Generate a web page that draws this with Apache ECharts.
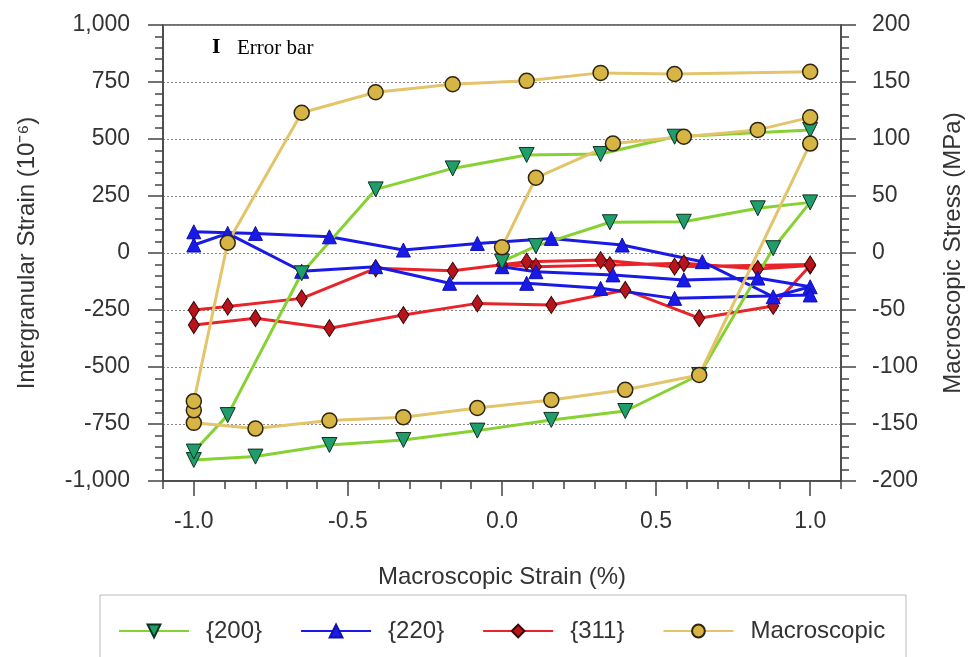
<!DOCTYPE html>
<html>
<head>
<meta charset="utf-8">
<script src="https://cdn.jsdelivr.net/npm/echarts@6/dist/echarts.min.js"></script>
<style>
  html, body { margin: 0; padding: 0; background: #fff; }
  #chart-container { width: 973px; height: 657px; }
</style>
</head>
<body>
<div id="chart-container"></div>
<script>
// macroscopic strain (%) per measured point, loop order: tension, reverse, re-tension
const strain200 = [0, 0.11, 0.35, 0.59, 0.83, 1.0, 0.88, 0.64, 0.40, 0.16, -0.08, -0.32, -0.56, -0.80, -1.0, -1.0, -0.89, -0.65, -0.41, -0.16, 0.08, 0.32, 0.56, 1.0];
const strain220 = [0, 0.11, 0.36, 0.59, 0.83, 1.0, 0.88, 0.65, 0.39, 0.16, -0.08, -0.32, -0.56, -0.80, -1.0, -1.0, -0.89, -0.65, -0.41, -0.17, 0.08, 0.32, 0.56, 1.0];
const strain311 = [0, 0.11, 0.35, 0.59, 0.83, 1.0, 0.88, 0.64, 0.40, 0.16, -0.08, -0.32, -0.56, -0.80, -1.0, -1.0, -0.89, -0.65, -0.41, -0.16, 0.08, 0.32, 0.56, 1.0];
const strainMacro = [0, 0.11, 0.36, 0.59, 0.83, 1.0, 1.0, 0.64, 0.40, 0.16, -0.08, -0.32, -0.56, -0.80, -1.0, -1.0, -1.0, -0.89, -0.65, -0.41, -0.16, 0.08, 0.32, 0.56, 1.0];

// intergranular strain (1e-6)
const strain200Values = [-38, 30, 135, 137, 196, 222, 21, -535, -693, -732, -779, -820, -842, -893, -908, -871, -711, -89, 279, 371, 430, 434, 510, 540];
const strain220Values = [-60, -82, -96, -118, -110, -148, -192, -38, 35, 64, 42, 13, 71, 86, 93, 35, 86, -80, -60, -133, -133, -155, -199, -184];
const strain311Values = [-50, -60, -53, -45, -70, -55, -232, -286, -162, -228, -221, -272, -330, -286, -316, -250, -235, -199, -67, -78, -38, -31, -60, -50];

// macroscopic stress (MPa)
const stressMacro = [5, 66, 96, 102, 108, 119, 96, -107, -120, -129, -136, -144, -147, -154, -149, -138, -130, 9, 123, 141, 148, 151, 158, 157, 159];

const xMajorTicks = [-1.0, -0.5, 0.0, 0.5, 1.0];
const seriesNames = ["{200}", "{220}", "{311}", "Macroscopic"];

const zip = (xs, ys) => xs.map((x, i) => [x, ys[i]]);

const axisColor = "#444";
const textColor = "#333";
const font = "Arial, 'Liberation Sans', sans-serif";

const dom = document.getElementById("chart-container");
const myChart = echarts.init(dom, null, { renderer: "canvas" });

const option = {
  backgroundColor: "#fff",
  animation: false,
  textStyle: { fontFamily: font },
  grid: {
    left: 163,
    right: 129,
    top: 25,
    bottom: 176,
    show: true,
    borderColor: axisColor,
    borderWidth: 1.5,
  },
  legend: {
    data: seriesNames,
    left: 113,
    top: 614,
    itemWidth: 70,
    itemHeight: 16,
    itemGap: 38,
    textStyle: { fontSize: 24, color: textColor, padding: [0, 0, 0, 12] },
  },
  xAxis: [
    {
      type: "value",
      min: -1.1,
      max: 1.1,
      position: "bottom",
      name: "Macroscopic Strain (%)",
      nameLocation: "middle",
      nameGap: 84,
      nameTextStyle: { fontSize: 24, color: textColor },
      axisLine: { onZero: false, lineStyle: { color: axisColor, width: 1.5 } },
      axisTick: { customValues: xMajorTicks, length: 15, lineStyle: { color: axisColor, width: 1.5 } },
      axisLabel: {
        customValues: xMajorTicks,
        formatter: (v) => v.toFixed(1),
        fontSize: 23,
        color: textColor,
        margin: 29,
      },
      splitLine: { show: false },
    },
    {
      type: "value",
      min: -1.1,
      max: 1.1,
      interval: 0.1,
      position: "bottom",
      axisLine: { show: false, onZero: false },
      axisTick: { length: 8, lineStyle: { color: axisColor, width: 1.5 } },
      axisLabel: { show: false },
      splitLine: { show: false },
    },
  ],
  yAxis: [
    {
      type: "value",
      min: -1000,
      max: 1000,
      interval: 250,
      position: "left",
      name: "Intergranular Strain (10\u207B\u2076)",
      nameLocation: "middle",
      nameRotate: 90,
      nameGap: 124,
      nameTextStyle: { fontSize: 24, color: textColor },
      axisLine: { show: true, onZero: false, lineStyle: { color: axisColor, width: 1.5 } },
      axisTick: { show: true, length: 15, lineStyle: { color: axisColor, width: 1.5 } },
      minorTick: { show: true, splitNumber: 5, length: 8, lineStyle: { color: axisColor, width: 1.5 } },
      axisLabel: {
        formatter: (v) => v.toLocaleString("en-US"),
        fontSize: 23,
        color: textColor,
        margin: 33,
      },
      splitLine: { show: true, lineStyle: { color: "#888", type: [2, 2], width: 1 } },
    },
    {
      type: "value",
      min: -200,
      max: 200,
      interval: 50,
      position: "right",
      name: "Macroscopic Stress (MPa)",
      nameLocation: "middle",
      nameRotate: 90,
      nameGap: 100,
      nameTextStyle: { fontSize: 24, color: textColor },
      axisLine: { show: true, onZero: false, lineStyle: { color: axisColor, width: 1.5 } },
      axisTick: { show: true, length: 15, lineStyle: { color: axisColor, width: 1.5 } },
      minorTick: { show: true, splitNumber: 5, length: 8, lineStyle: { color: axisColor, width: 1.5 } },
      axisLabel: { fontSize: 23, color: textColor, margin: 31 },
      splitLine: { show: false },
    },
  ],
  series: [
    {
      name: "{311}",
      type: "line",
      xAxisIndex: 0,
      yAxisIndex: 0,
      data: zip(strain311, strain311Values),
      symbol: "diamond",
      symbolSize: [11, 17],
      lineStyle: { color: "#e8242a", width: 3 },
      itemStyle: { color: "#b8141c", borderColor: "#3a0505", borderWidth: 1 },
    },
    {
      name: "{220}",
      type: "line",
      xAxisIndex: 0,
      yAxisIndex: 0,
      data: zip(strain220, strain220Values),
      symbol: "triangle",
      symbolSize: 14,
      lineStyle: { color: "#1a1ae6", width: 3 },
      itemStyle: { color: "#1a1ae6", borderColor: "#1010b0", borderWidth: 1 },
    },
    {
      name: "{200}",
      type: "line",
      xAxisIndex: 0,
      yAxisIndex: 0,
      data: zip(strain200, strain200Values),
      symbol: "triangle",
      symbolRotate: 180,
      symbolSize: 15,
      lineStyle: { color: "#86d232", width: 3 },
      itemStyle: { color: "#1f9e6c", borderColor: "#0d3020", borderWidth: 1 },
    },
    {
      name: "Macroscopic",
      type: "line",
      xAxisIndex: 0,
      yAxisIndex: 1,
      data: zip(strainMacro, stressMacro),
      symbol: "circle",
      symbolSize: 15,
      lineStyle: { color: "#e3c46a", width: 3 },
      itemStyle: { color: "#d6b544", borderColor: "#2e2410", borderWidth: 1.5 },
    },
  ],
  graphic: [
    {
      type: "rect",
      shape: { x: 100, y: 595, width: 806, height: 80 },
      style: { fill: "none", stroke: "#bbb", lineWidth: 1 },
      silent: true,
    },
    {
      type: "text",
      x: 212,
      y: 39,
      style: { text: "I", font: "bold 18px 'DejaVu Serif'", fill: "#000" },
    },
    {
      type: "text",
      x: 237,
      y: 38,
      style: { text: "Error bar", font: "21px 'Liberation Serif', serif", fill: "#000" },
    },
  ],
};

if (option && typeof option === "object") {
  myChart.setOption(option);
}

window.addEventListener("resize", myChart.resize);
</script>
</body>
</html>
